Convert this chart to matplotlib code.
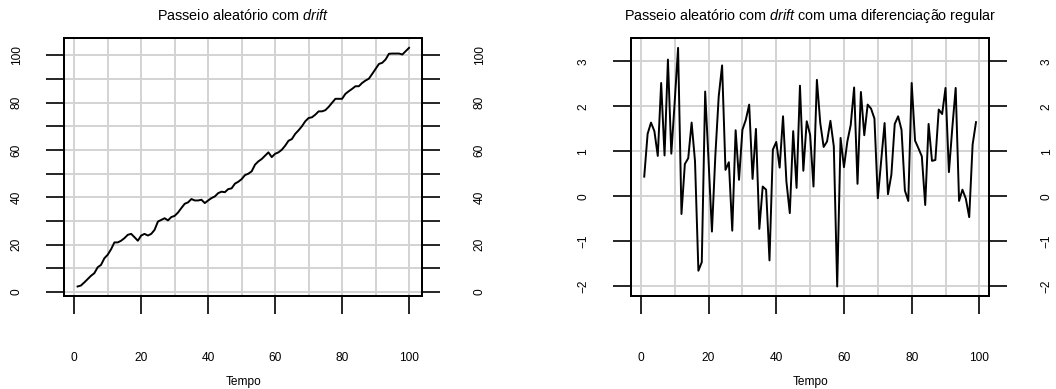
import numpy as np
import matplotlib
matplotlib.use("Agg")
import matplotlib.pyplot as plt

plt.rcParams['font.family'] = ['Liberation Sans', 'DejaVu Sans']
plt.rcParams['mathtext.fontset'] = 'custom'
plt.rcParams['mathtext.rm'] = 'Liberation Sans'
plt.rcParams['mathtext.it'] = 'Liberation Sans:italic'

# random walk with drift (t = 1..100)
passeio = [2.4, 2.8, 4.1, 5.5, 6.9, 8.0, 10.5, 11.5, 14.3, 15.8,
           18.1, 21.0, 21.0, 21.7, 22.8, 24.2, 24.6, 23.2, 21.7, 23.9,
           24.6, 23.9, 24.6, 26.3, 29.8, 30.5, 31.2, 30.3, 31.7, 32.2,
           33.6, 35.5, 37.3, 37.9, 39.3, 38.7, 38.7, 39.0, 37.6, 38.7,
           39.7, 40.4, 41.8, 42.4, 42.2, 43.5, 43.8, 45.8, 46.6, 47.7,
           49.4, 50.0, 51.0, 53.8, 55.2, 56.2, 57.6, 59.0, 57.0, 58.4,
           59.0, 60.1, 61.8, 63.9, 64.6, 66.8, 68.3, 70.0, 72.1, 73.5,
           73.8, 74.9, 76.3, 76.3, 76.8, 78.2, 79.9, 81.6, 81.6, 81.6,
           83.7, 84.8, 85.8, 86.9, 86.9, 88.3, 89.3, 90.1, 92.1, 94.2,
           96.3, 96.8, 98.2, 100.6, 100.7, 100.7, 100.7, 100.3, 101.7, 103.1]

# first difference (t = 1..99)
diferenca = [0.44, 1.39, 1.64, 1.45, 0.90, 2.52, 0.91, 3.04, 0.95, 2.10,
             3.30, -0.39, 0.72, 0.85, 1.64, 0.78, -1.65, -1.46, 2.33, 0.80,
             -0.78, 0.90, 2.22, 2.91, 0.59, 0.76, -0.76, 1.47, 0.37, 1.48,
             1.70, 2.04, 0.39, 1.50, -0.72, 0.22, 0.15, -1.42, 1.04, 1.21,
             0.64, 1.78, 0.33, -0.37, 1.45, 0.19, 2.46, 0.57, 1.67, 1.37,
             0.22, 2.59, 1.63, 1.10, 1.22, 1.68, 1.11, -2.00, 1.30, 0.65,
             1.22, 1.59, 2.42, 0.28, 2.32, 1.36, 2.04, 1.95, 1.73, -0.04,
             0.80, 1.63, 0.05, 0.48, 1.61, 1.78, 1.48, 0.13, -0.10, 2.52,
             1.24, 1.07, 0.89, -0.19, 1.61, 0.79, 0.81, 1.93, 1.83, 2.41,
             0.54, 1.52, 2.41, -0.10, 0.15, -0.05, -0.46, 1.15, 1.65]

tempo1 = np.arange(1, len(passeio) + 1)
tempo2 = np.arange(1, len(diferenca) + 1)

xticks = [0, 20, 40, 60, 80, 100]
xgrid = np.arange(0, 101, 10)
yticks1 = np.arange(0, 101, 10)
ylabels1 = [str(v) if v % 20 == 0 else '' for v in yticks1]
yticks2 = [-2, -1, 0, 1, 2, 3]
ylabels2 = [str(v).replace('-', '\u2212') for v in yticks2]

titulos = ['Passeio aleatório com $\\mathit{drift}$',
           'Passeio aleatório com $\\mathit{drift}$ com uma diferenciação regular']

fig = plt.figure(figsize=(10.56, 3.89), dpi=100)
ax1 = fig.add_axes([0.0609, 0.239, 0.339, 0.6625])
ax2 = fig.add_axes([0.5975, 0.239, 0.3393, 0.6625])


def limites(v):
    # R-style 4% extension of the data range
    lo, hi = min(v), max(v)
    d = (hi - lo) * 0.04
    return lo - d, hi + d


def estilo(ax, x, y, yticks, ylabels, titulo):
    ax.plot(x, y, color='black', lw=1.4, zorder=3)
    for g in xgrid:
        ax.axvline(g, color='#d3d3d3', lw=1.4, zorder=0)
    for g in yticks:
        ax.axhline(g, color='#d3d3d3', lw=1.4, zorder=0)
    ax.set_xlim(limites(x))
    ax.set_ylim(limites(y))
    ax.set_xticks(xticks)
    ax.set_yticks(yticks)
    ax.set_yticklabels(ylabels)
    ax.tick_params(axis='both', direction='out', length=13, width=1.2,
                   labelsize=8.6, color='black')
    ax.tick_params(axis='x', pad=27)
    ax.tick_params(axis='y', labelrotation=90, pad=17)
    for lab in ax.get_yticklabels():
        lab.set_va('center')
    for s in ax.spines.values():
        s.set_linewidth(1.4)
    ax.set_xlabel('Tempo', fontsize=8.6, labelpad=9)
    ax.set_title(titulo, fontsize=10.4, pad=13)

    # right-hand axis, same scale
    axr = ax.twinx()
    axr.set_ylim(ax.get_ylim())
    axr.set_yticks(yticks)
    axr.set_yticklabels(ylabels)
    axr.tick_params(axis='y', direction='out', length=13, width=1.2,
                    labelsize=8.6, labelrotation=90, pad=24)
    for lab in axr.get_yticklabels():
        lab.set_va('center')
    for s in axr.spines.values():
        s.set_linewidth(1.4)


estilo(ax1, tempo1, passeio, yticks1, ylabels1, titulos[0])
estilo(ax2, tempo2, diferenca, yticks2, ylabels2, titulos[1])

fig.savefig('out.png', dpi=100)
